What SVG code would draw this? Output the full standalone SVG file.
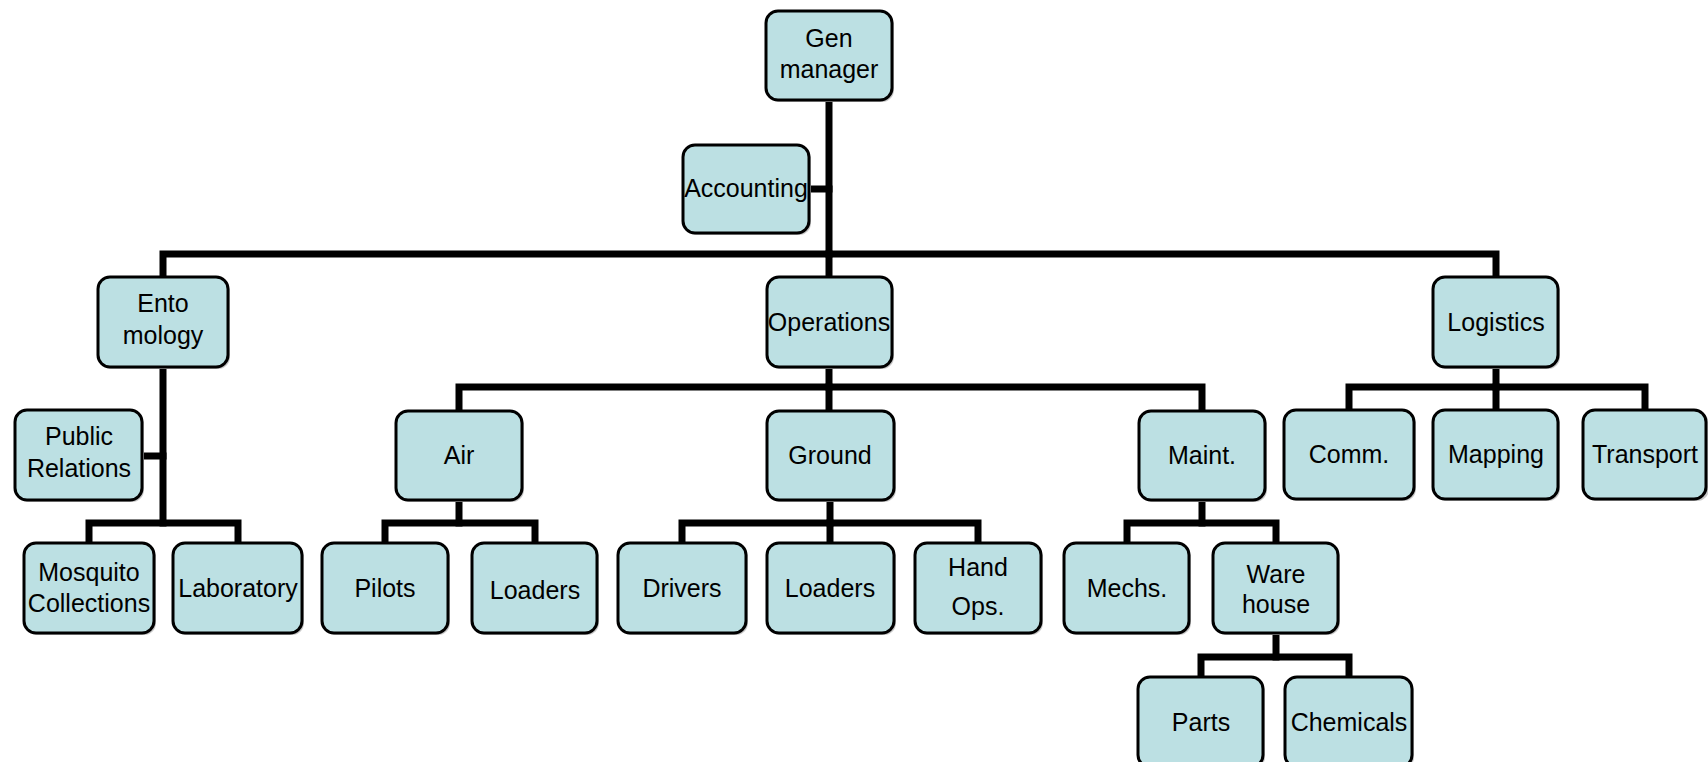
<svg xmlns="http://www.w3.org/2000/svg" width="1708" height="762" viewBox="0 0 1708 762">
<style>
.bg{fill:#ffffff}
.sh{fill:#c8c8c8}
.box{fill:#bce0e3;stroke:#000;stroke-width:3}
.t{font-family:"Liberation Sans",Arial,sans-serif;font-size:25px;fill:#000;text-anchor:middle}
.c{fill:none;stroke:#000;stroke-width:7;stroke-linejoin:miter;stroke-linecap:square}
</style>
<rect class="bg" x="0" y="0" width="1708" height="762"/>
<g id="connectors">
<path class="c" d="M829 103 V254"/>
<path class="c" d="M811 189 H829"/>
<path class="c" d="M163 276 V254 H1496 V276"/>
<path class="c" d="M829 254 V276"/>
<path class="c" d="M163 369 V523"/>
<path class="c" d="M144 456 H163"/>
<path class="c" d="M89 542 V523 H238 V542"/>
<path class="c" d="M829 369 V387"/>
<path class="c" d="M459 410 V387 H1202 V410"/>
<path class="c" d="M829 387 V410"/>
<path class="c" d="M1496 369 V387"/>
<path class="c" d="M1349 409 V387 H1645 V409"/>
<path class="c" d="M1496 387 V409"/>
<path class="c" d="M459 502 V523"/>
<path class="c" d="M385 542 V523 H535 V542"/>
<path class="c" d="M830 502 V523"/>
<path class="c" d="M682 542 V523 H978 V542"/>
<path class="c" d="M830 523 V542"/>
<path class="c" d="M1202 502 V523"/>
<path class="c" d="M1127 542 V523 H1276 V542"/>
<path class="c" d="M1276 635 V657"/>
<path class="c" d="M1201 676 V657 H1349 V676"/>
</g>
<g id="n-gen"><rect class="sh" x="768" y="13" width="126" height="89" rx="12"/><rect class="box" x="766" y="11" width="126" height="89" rx="12"/><text class="t" x="829" y="47">Gen</text><text class="t" x="829" y="78">manager</text></g>
<g id="n-accounting"><rect class="sh" x="685" y="147" width="126" height="88" rx="12"/><rect class="box" x="683" y="145" width="126" height="88" rx="12"/><text class="t" x="746" y="197">Accounting</text></g>
<g id="n-entomology"><rect class="sh" x="100" y="279" width="130" height="90" rx="12"/><rect class="box" x="98" y="277" width="130" height="90" rx="12"/><text class="t" x="163" y="312">Ento</text><text class="t" x="163" y="344">mology</text></g>
<g id="n-operations"><rect class="sh" x="769" y="279" width="125" height="90" rx="12"/><rect class="box" x="767" y="277" width="125" height="90" rx="12"/><text class="t" x="829" y="331">Operations</text></g>
<g id="n-logistics"><rect class="sh" x="1435" y="279" width="125" height="90" rx="12"/><rect class="box" x="1433" y="277" width="125" height="90" rx="12"/><text class="t" x="1496" y="331">Logistics</text></g>
<g id="n-public-relations"><rect class="sh" x="17" y="412" width="127" height="90" rx="12"/><rect class="box" x="15" y="410" width="127" height="90" rx="12"/><text class="t" x="79" y="445">Public</text><text class="t" x="79" y="477">Relations</text></g>
<g id="n-air"><rect class="sh" x="398" y="413" width="126" height="89" rx="12"/><rect class="box" x="396" y="411" width="126" height="89" rx="12"/><text class="t" x="459" y="464">Air</text></g>
<g id="n-ground"><rect class="sh" x="769" y="413" width="127" height="89" rx="12"/><rect class="box" x="767" y="411" width="127" height="89" rx="12"/><text class="t" x="830" y="464">Ground</text></g>
<g id="n-maint"><rect class="sh" x="1141" y="413" width="126" height="89" rx="12"/><rect class="box" x="1139" y="411" width="126" height="89" rx="12"/><text class="t" x="1202" y="464">Maint.</text></g>
<g id="n-comm"><rect class="sh" x="1286" y="412" width="130" height="89" rx="12"/><rect class="box" x="1284" y="410" width="130" height="89" rx="12"/><text class="t" x="1349" y="463">Comm.</text></g>
<g id="n-mapping"><rect class="sh" x="1435" y="412" width="125" height="89" rx="12"/><rect class="box" x="1433" y="410" width="125" height="89" rx="12"/><text class="t" x="1496" y="463">Mapping</text></g>
<g id="n-transport"><rect class="sh" x="1585" y="412" width="124" height="89" rx="12"/><rect class="box" x="1583" y="410" width="123" height="89" rx="12"/><text class="t" x="1645" y="463">Transport</text></g>
<g id="n-mosquito"><rect class="sh" x="26" y="545" width="130" height="90" rx="12"/><rect class="box" x="24" y="543" width="130" height="90" rx="12"/><text class="t" x="89" y="581">Mosquito</text><text class="t" x="89" y="612">Collections</text></g>
<g id="n-laboratory"><rect class="sh" x="175" y="545" width="129" height="90" rx="12"/><rect class="box" x="173" y="543" width="129" height="90" rx="12"/><text class="t" x="238" y="597">Laboratory</text></g>
<g id="n-pilots"><rect class="sh" x="324" y="545" width="126" height="90" rx="12"/><rect class="box" x="322" y="543" width="126" height="90" rx="12"/><text class="t" x="385" y="597">Pilots</text></g>
<g id="n-loaders-air"><rect class="sh" x="474" y="545" width="125" height="90" rx="12"/><rect class="box" x="472" y="543" width="125" height="90" rx="12"/><text class="t" x="535" y="599">Loaders</text></g>
<g id="n-drivers"><rect class="sh" x="620" y="545" width="128" height="90" rx="12"/><rect class="box" x="618" y="543" width="128" height="90" rx="12"/><text class="t" x="682" y="597">Drivers</text></g>
<g id="n-loaders-ground"><rect class="sh" x="769" y="545" width="127" height="90" rx="12"/><rect class="box" x="767" y="543" width="127" height="90" rx="12"/><text class="t" x="830" y="597">Loaders</text></g>
<g id="n-hand-ops"><rect class="sh" x="917" y="545" width="126" height="90" rx="12"/><rect class="box" x="915" y="543" width="126" height="90" rx="12"/><text class="t" x="978" y="576">Hand</text><text class="t" x="978" y="615">Ops.</text></g>
<g id="n-mechs"><rect class="sh" x="1066" y="545" width="125" height="90" rx="12"/><rect class="box" x="1064" y="543" width="125" height="90" rx="12"/><text class="t" x="1127" y="597">Mechs.</text></g>
<g id="n-warehouse"><rect class="sh" x="1215" y="545" width="125" height="90" rx="12"/><rect class="box" x="1213" y="543" width="125" height="90" rx="12"/><text class="t" x="1276" y="583">Ware</text><text class="t" x="1276" y="613">house</text></g>
<g id="n-parts"><rect class="sh" x="1140" y="679" width="125" height="90" rx="12"/><rect class="box" x="1138" y="677" width="125" height="90" rx="12"/><text class="t" x="1201" y="731">Parts</text></g>
<g id="n-chemicals"><rect class="sh" x="1287" y="679" width="127" height="90" rx="12"/><rect class="box" x="1285" y="677" width="127" height="90" rx="12"/><text class="t" x="1349" y="731">Chemicals</text></g>
</svg>
